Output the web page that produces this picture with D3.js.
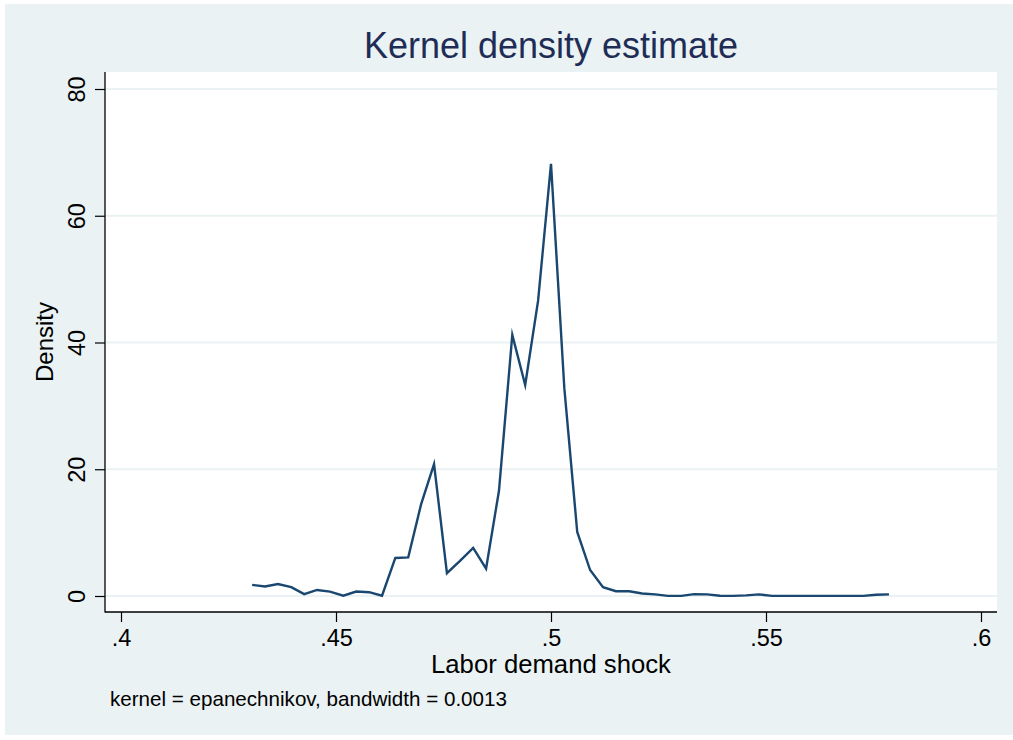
<!DOCTYPE html>
<html>
<head>
<meta charset="utf-8">
<script src="https://cdn.jsdelivr.net/npm/d3@7"></script>
<style>
  html, body { margin: 0; padding: 0; background: #ffffff; }
  svg { display: block; font-family: "Liberation Sans", Arial, Helvetica, sans-serif; }
</style>
</head>
<body>
<svg id="chart" width="1013" height="740"></svg>
<script>
// ---- data ----
const xValues = [
  0.4305, 0.4335, 0.4365, 0.4396, 0.4426, 0.4456, 0.4486, 0.4517, 0.4547, 0.4577,
  0.4607, 0.4638, 0.4668, 0.4698, 0.4728, 0.4758, 0.4789, 0.4819, 0.4849, 0.4879,
  0.4910, 0.4940, 0.4970, 0.5000, 0.5031, 0.5061, 0.5091, 0.5121, 0.5151, 0.5182,
  0.5212, 0.5242, 0.5272, 0.5303, 0.5333, 0.5363, 0.5393, 0.5423, 0.5454, 0.5484,
  0.5514, 0.5544, 0.5575, 0.5605, 0.5635, 0.5665, 0.5695, 0.5726, 0.5756, 0.5786
];
const densityValues = [
  1.75, 1.5, 1.9, 1.4, 0.3, 0.95, 0.7, 0.05, 0.7, 0.6,
  0.05, 6.0, 6.1, 14.5, 20.8, 3.6, 5.6, 7.6, 4.3, 16.6,
  41.2, 33.3, 46.6, 68.2, 32.8, 10.1, 4.1, 1.4, 0.75, 0.75,
  0.4, 0.25, 0.02, 0.02, 0.3, 0.25, 0.03, 0.02, 0.1, 0.25,
  0.02, 0.02, 0.02, 0.02, 0.02, 0.02, 0.02, 0.02, 0.2, 0.25
];
const xTicks = [0.4, 0.45, 0.5, 0.55, 0.6];
const xTickLabels = [".4", ".45", ".5", ".55", ".6"];
const yTicks = [0, 20, 40, 60, 80];
const yTickLabels = ["0", "20", "40", "60", "80"];
const titleText = "Kernel density estimate";
const xTitle = "Labor demand shock";
const yTitle = "Density";
const noteText = "kernel = epanechnikov, bandwidth = 0.0013";

// ---- layout ----
const W = 1013, H = 740;
const plot = { left: 105, right: 997, top: 72, bottom: 612 };
const bgColor = "#EAF2F3";
const lineColor = "#1A476F";

const svg = d3.select("#chart");

// outer background
svg.append("rect").attr("x", 0).attr("y", 0).attr("width", W).attr("height", H).attr("fill", "#ffffff");
svg.append("rect").attr("x", 5).attr("y", 4).attr("width", W - 5).attr("height", 731).attr("fill", bgColor);

// plot region
svg.append("rect")
  .attr("x", plot.left).attr("y", plot.top)
  .attr("width", plot.right - plot.left).attr("height", plot.bottom - plot.top)
  .attr("fill", "#ffffff");

const x = d3.scaleLinear().domain([0.4, 0.6]).range([121, 981]);
const y = d3.scaleLinear().domain([0, 80]).range([596, 89]);

// gridlines
svg.append("g").selectAll("line").data(yTicks).join("line")
  .attr("x1", plot.left + 1).attr("x2", plot.right)
  .attr("y1", d => y(d)).attr("y2", d => y(d))
  .attr("stroke", bgColor).attr("stroke-width", 2);

// density line
const line = d3.line().x((d, i) => x(xValues[i])).y(d => y(d));
svg.append("path")
  .datum(densityValues)
  .attr("d", line)
  .attr("fill", "none")
  .attr("stroke", lineColor)
  .attr("stroke-width", 2.4)
  .attr("stroke-linejoin", "miter")
  .attr("stroke-miterlimit", 10);

// y axis
const yAxis = d3.axisLeft(y).tickValues(yTicks)
  .tickFormat((d, i) => yTickLabels[i]).tickSize(10).tickSizeOuter(0).tickPadding(11);
const gy = svg.append("g").attr("transform", `translate(${plot.left},0)`).call(yAxis);
gy.select(".domain").remove();
gy.selectAll(".tick line").attr("stroke", "#000").attr("stroke-width", 1.2);
gy.selectAll(".tick text")
  .attr("font-size", 23.5).attr("fill", "#000")
  .attr("font-family", "Liberation Sans, Arial, sans-serif")
  .attr("text-anchor", "middle")
  .attr("dy", null)
  .attr("x", null)
  .attr("transform", "translate(-20.5,0) rotate(-90)");

// x axis
const xAxis = d3.axisBottom(x).tickValues(xTicks)
  .tickFormat((d, i) => xTickLabels[i]).tickSize(10).tickSizeOuter(0).tickPadding(6);
const gx = svg.append("g").attr("transform", `translate(0,${plot.bottom})`).call(xAxis);
gx.select(".domain").remove();
gx.selectAll(".tick line").attr("stroke", "#000").attr("stroke-width", 1.2);
gx.selectAll(".tick text")
  .attr("font-size", 23.5).attr("fill", "#000")
  .attr("font-family", "Liberation Sans, Arial, sans-serif")
  .attr("dy", null)
  .attr("y", 34);

// axis lines
svg.append("line").attr("x1", plot.left).attr("x2", plot.left)
  .attr("y1", plot.top).attr("y2", plot.bottom + 0.6)
  .attr("stroke", "#000").attr("stroke-width", 1.3);
svg.append("line").attr("x1", plot.left).attr("x2", plot.right)
  .attr("y1", plot.bottom).attr("y2", plot.bottom)
  .attr("stroke", "#000").attr("stroke-width", 1.3);

// title
svg.append("text")
  .attr("x", (plot.left + plot.right) / 2).attr("y", 57.5)
  .attr("text-anchor", "middle")
  .attr("font-size", 36).attr("fill", "#1F2D56")
  .text(titleText);

// x title
svg.append("text")
  .attr("x", (plot.left + plot.right) / 2).attr("y", 673)
  .attr("text-anchor", "middle")
  .attr("font-size", 25.7).attr("fill", "#000")
  .text(xTitle);

// y title
svg.append("text")
  .attr("transform", `translate(53,${(plot.top + plot.bottom) / 2}) rotate(-90)`)
  .attr("text-anchor", "middle")
  .attr("font-size", 24).attr("fill", "#000")
  .text(yTitle);

// note
svg.append("text")
  .attr("x", 110).attr("y", 706)
  .attr("font-size", 20.6).attr("fill", "#000")
  .text(noteText);
</script>
</body>
</html>
